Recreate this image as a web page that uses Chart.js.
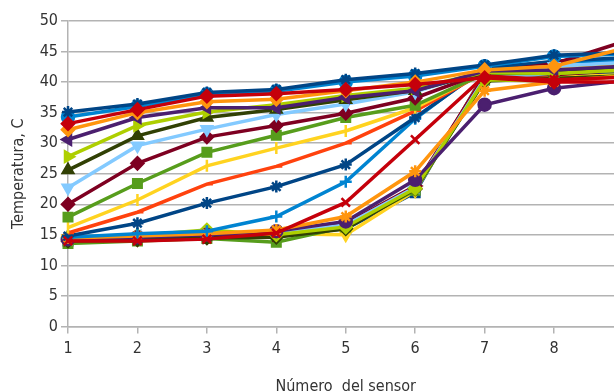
<!DOCTYPE html>
<html>
<head>
<meta charset="utf-8">
<script src="https://cdn.jsdelivr.net/npm/chart.js@4/dist/chart.umd.min.js"></script>
<style>
html, body { margin: 0; padding: 0; background: #fff; overflow: hidden; }
#grafico { display: block; }
</style>
</head>
<body>
<canvas id="grafico" width="632" height="400"></canvas>
<script>
// sensores (eje X)
var sensores = ['1', '2', '3', '4', '5', '6', '7', '8', '9'];

// temperaturas por serie (mediciones sucesivas)
var t00 = [14.0, 14.6, 14.8, 14.9, 16.0, 21.9, 41.5, 41.0, 41.5];
var t01 = [14.3, 14.2, 14.6, 15.1, 16.5, 22.6, 41.2, 40.6, 41.0];
var t02 = [14.4, 14.5, 15.0, 15.2, 15.0, 22.2, 40.8, 40.8, 41.2];
var t03 = [13.6, 14.0, 14.4, 13.8, 16.3, 22.3, 40.3, 40.6, 41.0];
var t04 = [14.2, 14.4, 14.6, 15.0, 16.8, 23.0, 41.0, 41.2, 42.0];
var t05 = [14.4, 14.8, 15.3, 15.4, 16.6, 22.8, 40.6, 41.5, 42.0];
var t06 = [14.0, 14.2, 14.5, 14.6, 16.0, 22.5, 40.2, 40.6, 41.0];
var t07 = [14.6, 14.9, 15.8, 15.0, 16.3, 22.6, 40.4, 40.2, 41.0];
var t08 = [14.3, 14.6, 15.0, 15.6, 17.2, 24.0, 36.3, 39.0, 40.2];
var t09 = [14.5, 14.8, 15.2, 15.8, 18.0, 25.4, 38.6, 40.0, 41.0];
var t10 = [14.0, 14.0, 14.3, 15.3, 20.3, 30.6, 41.0, 40.4, 40.8];
var t11 = [14.6, 15.2, 15.6, 18.0, 23.7, 34.0, 42.5, 43.2, 43.6];
var t12 = [14.8, 16.9, 20.2, 22.9, 26.5, 34.2, 42.2, 43.4, 44.0];
var t13 = [15.3, 18.7, 23.3, 26.2, 30.0, 35.3, 41.6, 42.0, 42.6];
var t14 = [16.2, 20.7, 26.3, 29.2, 32.0, 35.8, 41.6, 42.2, 43.0];
var t15 = [17.9, 23.4, 28.5, 31.3, 34.2, 36.2, 41.4, 41.4, 42.0];
var t16 = [20.0, 26.7, 31.0, 32.9, 34.9, 37.4, 41.6, 43.0, 46.6];
var t17 = [22.7, 29.6, 32.3, 34.7, 36.4, 38.4, 41.8, 42.6, 43.2];
var t18 = [25.6, 31.2, 34.2, 35.5, 37.1, 38.6, 41.6, 41.8, 42.4];
var t19 = [27.8, 32.9, 35.1, 36.3, 37.8, 39.0, 41.6, 41.4, 42.0];
var t20 = [30.6, 34.2, 35.8, 35.8, 37.5, 38.6, 41.8, 42.0, 42.6];
var t21 = [32.2, 35.0, 36.8, 37.2, 38.6, 40.0, 42.0, 42.6, 45.5];
var t22 = [33.2, 35.5, 37.7, 38.1, 38.8, 39.6, 40.7, 40.0, 40.0];
var t23 = [34.3, 36.0, 38.0, 38.5, 40.0, 41.0, 42.6, 44.2, 44.6];
var t24 = [35.1, 36.4, 38.3, 38.8, 40.4, 41.4, 42.8, 44.4, 44.8];

var ticksY = [0, 5, 10, 15, 20, 25, 30, 35, 40, 45, 50];

var series = [t00, t01, t02, t03, t04, t05, t06, t07, t08, t09, t10, t11, t12,
              t13, t14, t15, t16, t17, t18, t19, t20, t21, t22, t23, t24];

// paleta por defecto de LibreOffice
var colores = ['#004586', '#ff420e', '#ffd320', '#579d1c', '#7e0021', '#83caff',
               '#314004', '#aecf00', '#4b1f6f', '#ff950e', '#c5000b', '#0084d1'];

// simbolos: [estilo, rotacion]
var simbolos = [
    ['rect', 0], ['rectRot', 0], ['triangle', 180], ['triangle', 0], ['triangle', 90],
    ['triangle', 270], ['rectRot', 0], ['rectRot', 0], ['circle', 0], ['star', 0],
    ['crossRot', 0], ['cross', 0], ['star', 0], ['dash', 0], ['line', 90]
];

// orden de dibujo: las series rojas y naranja quedan encima
function orden(k) {
    if (k == 22) return -3;
    if (k == 21) return -2;
    if (k == 10) return 80;
    return 100 - k;
}

var datasets = series.map(function (d, k) {
    var c = colores[k % 12];
    var s = simbolos[k % 15];
    if (k == 3) s = ['rect', 0];
    return {
        label: 'Serie ' + (k + 1),
        data: d,
        borderColor: c,
        backgroundColor: c,
        borderWidth: 3.5,
        pointStyle: s[0],
        pointRotation: s[1],
        pointRadius: 6,
        pointBorderWidth: 2.5,
        tension: 0,
        order: orden(k)
    };
});

var fuente = "'Liberation Sans Narrow', 'DejaVu Sans Condensed', sans-serif";

var ctx = document.getElementById('grafico').getContext('2d');
var grafico = new Chart(ctx, {
    type: 'line',
    data: { labels: sensores, datasets: datasets },
    options: {
        responsive: false,
        animation: false,
        layout: { padding: { left: 0, right: 8, top: 21, bottom: 0 } },
        plugins: { legend: { display: false }, tooltip: { enabled: false } },
        scales: {
            x: {
                offset: false,
                grid: { drawOnChartArea: false, drawTicks: true, tickLength: 7, color: '#b3b3b3', lineWidth: 1.5 },
                border: { display: true, color: '#b3b3b3', width: 1.5 },
                ticks: { color: '#333', padding: 6, maxRotation: 0, font: { family: fuente, size: 16 } },
                title: { display: true, text: 'Número  del sensor', color: '#333', padding: { top: 0, bottom: 4 }, font: { family: fuente, size: 16 } },
                afterFit: function (scale) {
                    scale.height = 400 - 326.5;
                    scale.paddingLeft = 0;
                    scale.paddingRight = 0;
                }
            },
            y: {
                min: 0,
                max: 50,
                afterBuildTicks: function (scale) {
                    scale.ticks = ticksY.map(function (v) { return { value: v }; });
                },
                grid: { color: '#b3b3b3', lineWidth: 1.5, drawTicks: true, tickLength: 7 },
                border: { display: true, color: '#b3b3b3', width: 1.5 },
                ticks: { color: '#333', padding: 3, font: { family: fuente, size: 16 } },
                title: { display: true, text: 'Temperatura, C', color: '#333', padding: { top: 9, bottom: 0 }, font: { family: fuente, size: 16 } },
                afterFit: function (scale) {
                    scale.width = 68;
                    scale.paddingTop = 0;
                    scale.paddingBottom = 0;
                }
            }
        }
    }
});
</script>
</body>
</html>
